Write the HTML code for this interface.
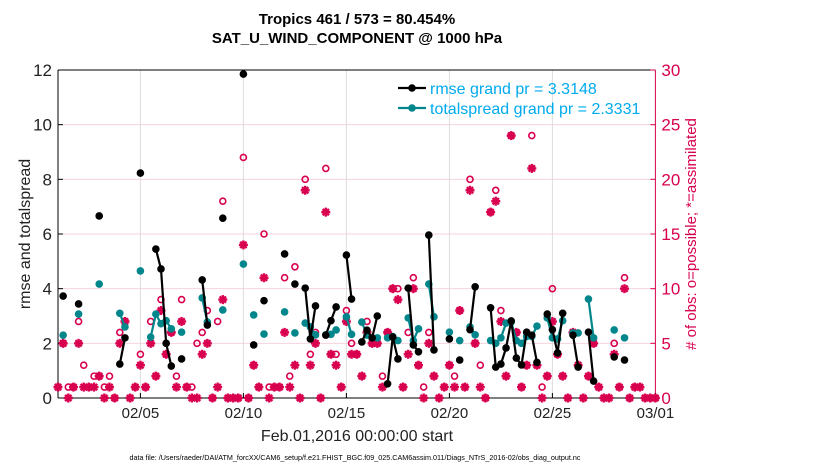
<!DOCTYPE html>
<html><head><meta charset="utf-8"><style>
body{margin:0;background:#fff;}
svg text{font-family:"Liberation Sans",sans-serif;}
</style></head><body>
<svg id="chart" width="830" height="470" xmlns="http://www.w3.org/2000/svg"></svg>
<script>
// ---- data (6-hourly steps starting Feb 1 00:00) ----
const xTickDays = [4, 9, 14, 19, 24, 29];
const xTickLabels = ["02/05", "02/10", "02/15", "02/20", "02/25", "03/01"];
const leftTicks = [0, 2, 4, 6, 8, 10, 12];
const rightTicks = [0, 5, 10, 15, 20, 25, 30];
const obsPossible = [1,5,1,1,7,3,1,2,2,1,2,0,6,7,0,1,4,1,7,2,9,4,6,2,9,1,1,5,6,8,
  0,7,18,0,0,0,22,0,3,1,15,1,1,1,11,2,12,0,20,4,6,0,21,4,4,1,8,5,4,2,
  7,5,5,2,6,10,10,1,6,11,3,1,6,2,0,1,3,2,8,1,20,5,3,0,17,19,8,2,24,6,
  1,3,24,3,1,2,10,4,2,0,6,3,0,2,5,1,0,0,5,1,11,0,1,1,0,0,0];
const obsAssim = [1,5,0,1,5,1,1,1,2,0,1,0,5,7,0,1,3,1,5,2,8,4,6,1,7,1,0,0,4,5,
  0,1,9,0,0,0,14,0,3,1,11,0,1,1,6,1,3,0,19,3,5,0,17,4,3,1,7,4,4,2,
  6,5,5,1,6,10,9,1,4,10,3,0,5,2,0,1,3,1,8,1,19,5,1,0,17,18,7,2,24,6,
  1,3,21,3,0,2,7,4,2,0,6,3,0,2,5,1,0,0,4,1,10,0,1,1,0,0,0];
const rmseIdx = [1,4,8,12,13,16,19,20,21,22,24,28,29,32,36,38,40,44,46,48,49,50,52,53,54,56,57,59,60,61,62,64,65,66,68,69,70,72,73,76,78,80,81,84,85,86,87,88,89,90,91,92,93,95,96,97,98,100,101,103,104,108,110];
const rmseVal = [3.73,3.44,6.66,1.24,2.2,8.23,5.45,4.72,2.0,1.17,1.43,4.32,2.67,6.58,11.85,1.94,3.56,5.27,4.17,4.02,2.16,3.37,2.3,2.83,3.33,5.23,3.62,2.05,2.48,2.2,3.0,0.52,2.23,1.43,4.02,1.94,1.69,5.96,1.76,2.16,1.39,2.5,4.07,3.3,1.13,1.24,1.83,2.82,1.46,1.21,2.41,2.3,1.3,3.07,2.5,1.65,3.1,2.3,1.13,2.41,0.62,1.5,1.39];
const spreadIdx = [1,4,8,12,13,16,18,19,20,21,22,24,28,29,32,36,38,40,44,46,48,49,50,52,53,54,56,57,59,60,61,62,64,65,66,68,69,70,72,73,76,78,80,81,84,85,86,87,88,89,90,91,92,93,95,96,97,98,100,101,103,104,108,110];
const spreadVal = [2.3,3.07,4.17,3.1,2.6,4.65,2.23,3.07,2.72,2.83,2.53,2.41,3.66,2.78,3.22,4.9,3.04,2.34,3.15,2.38,2.74,2.6,2.31,2.31,2.33,2.49,2.97,2.33,2.78,2.3,2.2,2.2,2.2,2.25,2.1,2.93,2.1,2.53,4.17,2.97,2.41,2.1,2.6,2.31,2.1,2.0,2.2,2.74,2.78,2.1,2.0,2.25,2.25,2.63,2.93,2.2,2.16,2.83,2.38,2.38,3.62,2.2,2.49,2.2];

// ---- axes ----
const X0=58, X1=655.4, Y0=398, Y1=70, DAYS=29;
const xOf = d => X0 + (X1-X0)*d/DAYS;
const yL = v => Y0 - (Y0-Y1)*v/12;
const yR = n => Y0 - (Y0-Y1)*n/30;
const tOf = i => i*0.25;
const RED = "#d8004f", TEAL="#00868b", CYAN="#00aaee";
const svg = document.getElementById('chart');
const NS = "http://www.w3.org/2000/svg";
function mk(tag, attrs, parent){ const e=document.createElementNS(NS,tag); for(const k in attrs) e.setAttribute(k,attrs[k]); (parent||svg).appendChild(e); return e; }

// grid
const grid = mk('g',{});


leftTicks.forEach(v=>{ if(v>0&&v<12) mk('line',{x1:X0,x2:X1,y1:yL(v),y2:yL(v),stroke:"#f5d5df","stroke-width":1},grid); });
xTickDays.forEach(d=>{ if(d<DAYS) mk('line',{x1:xOf(d),x2:xOf(d),y1:Y0,y2:Y1,stroke:"#dcdcdc","stroke-width":1},grid); });

// axes lines
mk('line',{x1:X0,x2:X1,y1:Y1,y2:Y1,stroke:"#000","stroke-width":1});
mk('line',{x1:X0,x2:X1,y1:Y0,y2:Y0,stroke:"#000","stroke-width":1});
mk('line',{x1:X0,x2:X0,y1:Y0,y2:Y1,stroke:"#000","stroke-width":1});
mk('line',{x1:X1,x2:X1,y1:Y0,y2:Y1,stroke:RED,"stroke-width":1});

// left ticks
leftTicks.forEach(v=>{
  mk('line',{x1:X0,x2:X0+5,y1:yL(v),y2:yL(v),stroke:"#000"});
  const t=mk('text',{x:X0-6,y:yL(v)+6,"text-anchor":"end","font-size":17,fill:"#222"}); t.textContent=v;
  
  
});
rightTicks.forEach(n=>{
  mk('line',{x1:X1-5,x2:X1,y1:yR(n),y2:yR(n),stroke:RED});
  const t=mk('text',{x:X1+6,y:yR(n)+6,"text-anchor":"start","font-size":17,fill:RED}); t.textContent=n;
  
  
});
xTickDays.forEach((d,i)=>{
  mk('line',{x1:xOf(d),x2:xOf(d),y1:Y0,y2:Y0-5,stroke:"#000"});
  const t=mk('text',{x:xOf(d),y:418,"text-anchor":"middle","font-size":15,fill:"#222"}); t.textContent=xTickLabels[i];
  
  
});

// obs markers
const obsG = mk('g',{});


obsPossible.forEach((n,i)=>{
  const c=mk('circle',{cx:xOf(tOf(i)),cy:yR(n),r:3,fill:"none",stroke:RED,"stroke-width":1.6},obsG);
  
  
});
obsAssim.forEach((n,i)=>{
  const cx=xOf(tOf(i)), cy=yR(n), s=4.5;
  const g=mk('g',{stroke:RED,"stroke-width":2.4},obsG);
  
  
  mk('line',{x1:cx-s,x2:cx+s,y1:cy,y2:cy},g);
  mk('line',{x1:cx,x2:cx,y1:cy-s,y2:cy+s},g);
  mk('line',{x1:cx-s*0.7,x2:cx+s*0.7,y1:cy-s*0.7,y2:cy+s*0.7},g);
  mk('line',{x1:cx-s*0.7,x2:cx+s*0.7,y1:cy+s*0.7,y2:cy-s*0.7},g);
});

function series(idx, vals, color, name){
  const g=mk('g',{});
  
  
  for(let k=1;k<idx.length;k++){
    if(idx[k]-idx[k-1]===1){
      mk('line',{x1:xOf(tOf(idx[k-1])),y1:yL(vals[k-1]),x2:xOf(tOf(idx[k])),y2:yL(vals[k]),stroke:color,"stroke-width":2.2},g);
    }
  }
  idx.forEach((i,k)=>{
    const c=mk('circle',{cx:xOf(tOf(i)),cy:yL(vals[k]),r:3.8,fill:color},g);
    
    
  });
}
series(spreadIdx, spreadVal, TEAL, 'totalspread-series');
series(rmseIdx, rmseVal, "#000", 'rmse-series');

// legend
const lg=mk('g',{});


mk('line',{x1:398,x2:426,y1:88,y2:88,stroke:"#000","stroke-width":2.2},lg);
mk('circle',{cx:412,cy:88,r:3.8,fill:"#000"},lg);
const l1=mk('text',{x:430,y:94,"font-size":16,fill:CYAN},lg); l1.textContent="rmse grand pr = 3.3148";
mk('line',{x1:398,x2:426,y1:108,y2:108,stroke:TEAL,"stroke-width":2.2},lg);
mk('circle',{cx:412,cy:108,r:3.8,fill:TEAL},lg);
const l2=mk('text',{x:430,y:114,"font-size":16,fill:CYAN},lg); l2.textContent="totalspread grand pr = 2.3331";
</script>
<svg style="position:absolute;left:0;top:0" width="830" height="470" xmlns="http://www.w3.org/2000/svg">
<text x="357" y="24" text-anchor="middle" font-size="15" font-weight="bold" font-family="Liberation Sans, sans-serif">Tropics 461 / 573 = 80.454%</text>
<text x="357" y="43" text-anchor="middle" font-size="15" font-weight="bold" font-family="Liberation Sans, sans-serif">SAT_U_WIND_COMPONENT @ 1000 hPa</text>
<text transform="translate(30,234) rotate(-90)" text-anchor="middle" font-size="16" fill="#222" font-family="Liberation Sans, sans-serif">rmse and totalspread</text>
<text transform="translate(696,234) rotate(-90)" text-anchor="middle" font-size="15" fill="#d8004f" font-family="Liberation Sans, sans-serif"># of obs: o=possible; *=assimilated</text>
<text x="357" y="441" text-anchor="middle" font-size="16" fill="#222" font-family="Liberation Sans, sans-serif">Feb.01,2016 00:00:00 start</text>
<text x="355" y="460" text-anchor="middle" font-size="7.2" fill="#000" font-family="Liberation Sans, sans-serif">data file: /Users/raeder/DAI/ATM_forcXX/CAM6_setup/f.e21.FHIST_BGC.f09_025.CAM6assim.011/Diags_NTrS_2016-02/obs_diag_output.nc</text>
</svg>
</body></html>
